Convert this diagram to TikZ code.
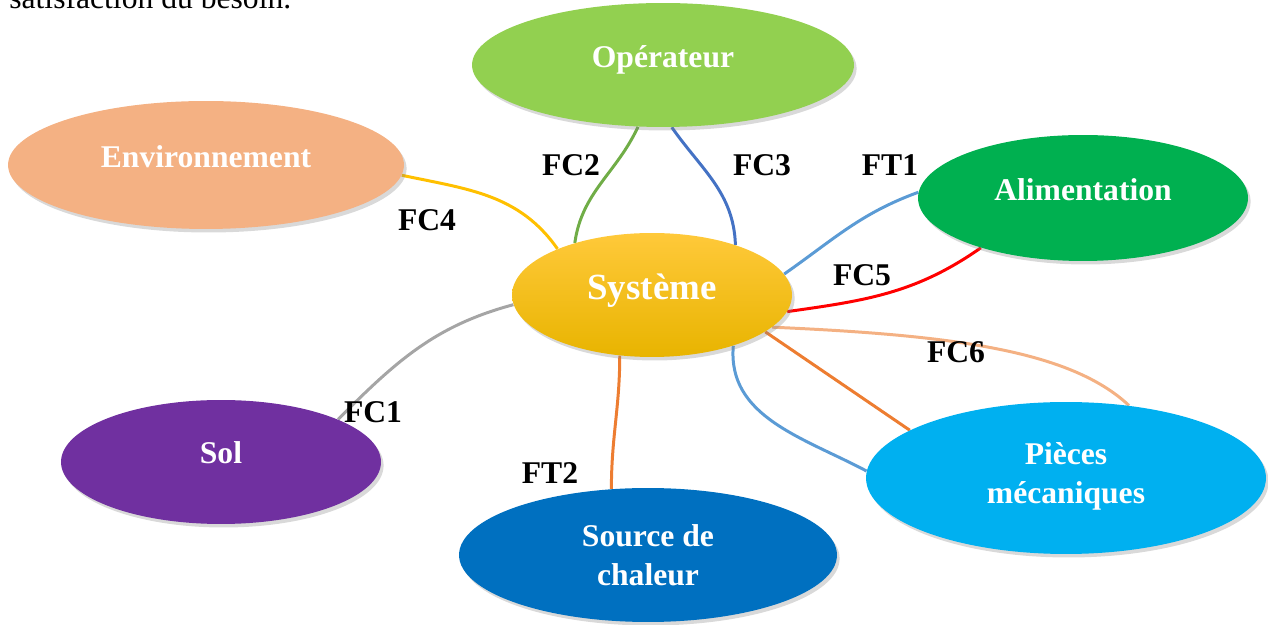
\documentclass[tikz,border=0pt]{standalone}
\usepackage{fontspec}
\setmainfont{Liberation Serif}
\usetikzlibrary{shapes.geometric,shadows,backgrounds}
\definecolor{opgreen}{HTML}{92D050}
\definecolor{envor}{HTML}{F4B183}
\definecolor{alimg}{HTML}{00B050}
\definecolor{solp}{HTML}{7030A0}
\definecolor{srcb}{HTML}{0070C0}
\definecolor{piecb}{HTML}{00B0F0}
\definecolor{systop}{HTML}{FFC93A}
\definecolor{sysbot}{HTML}{E8B400}
\definecolor{cyel}{HTML}{FFC000}
\definecolor{cgreen}{HTML}{70AD47}
\definecolor{cblue}{HTML}{4472C4}
\definecolor{clblue}{HTML}{5B9BD5}
\definecolor{cred}{HTML}{FF0000}
\definecolor{cpeach}{HTML}{F4B183}
\definecolor{corange}{HTML}{ED7D31}
\definecolor{cgray}{HTML}{A5A5A5}
\begin{document}
\begin{tikzpicture}[x=0.02cm,y=0.02cm,
  bub/.style={ellipse,inner sep=0pt,draw=none,text=white,align=center,
    font=\fontsize{18}{22.3}\selectfont\bfseries,
    drop shadow={shadow xshift=1.5pt,shadow yshift=-2pt,opacity=0.3}},
  lab/.style={font=\fontsize{18}{21}\selectfont\bfseries,inner sep=0pt},
  con/.style={line width=1.7pt}
]
\useasboundingbox (0,0) rectangle (1268,625);
\node[anchor=base west,inner sep=0pt,font=\fontsize{18}{21}\selectfont] (top) at (9,616) {satisfaction du besoin.};

\node[bub,fill=opgreen,minimum width=7.64cm,minimum height=2.48cm,text depth=10pt] (op) at (663,560) {Opérateur};
\node[bub,fill=envor,minimum width=7.92cm,minimum height=2.56cm,text depth=10pt] (env) at (206,460) {Environnement};
\node[bub,fill=alimg,minimum width=6.6cm,minimum height=2.52cm,text depth=10pt] (alim) at (1083,427) {Alimentation};
\node[bub,top color=systop,bottom color=sysbot,minimum width=5.6cm,minimum height=2.48cm,
  font=\fontsize{21}{25}\selectfont\bfseries,text depth=10pt] (sys) at (652,330) {Système};
\node[bub,fill=solp,minimum width=6.4cm,minimum height=2.48cm,text depth=11pt] (sol) at (221,163) {Sol};
\node[bub,fill=srcb,minimum width=7.56cm,minimum height=2.68cm] (src) at (648,70) {Source de\\chaleur};
\node[bub,fill=piecb,minimum width=8.0cm,minimum height=3.04cm,text depth=6pt] (pieces) at (1066,147) {Pièces\\mécaniques};

\begin{scope}[on background layer]
\draw[con,cyel] (env.-3) to[out=-12,in=125] (sys.154);
\draw[con,cgreen] (op.248) to[out=245,in=82] (sys.146);
\draw[con,cblue] (op.-82) to[out=-55,in=92] (sys.31);
\draw[con,clblue] (sys.9) to[out=35,in=200] (alim.178);
\draw[con,cred] (sys.-7) to[out=8,in=215] (alim.206);
\draw[con,cpeach] (sys.-15) .. controls (950,290) and (1070,275) .. (pieces.49);
\draw[con,corange] (sys.-18) -- (pieces.163);
\draw[con,clblue] (sys.-32) to[out=-95,in=152] (pieces.178);
\draw[con,cgray] (sys.184) to[out=195,in=45] (sol.20);
\draw[con,corange] (sys.242) to[out=-90,in=90] (src.119);
\end{scope}

\node[lab] (lfc2) at (571,460) {FC2};
\node[lab] (lfc3) at (762,460) {FC3};
\node[lab] (lft1) at (890,460) {FT1};
\node[lab] (lfc4) at (427,405) {FC4};
\node[lab] (lfc5) at (862,350) {FC5};
\node[lab] (lfc6) at (956,273) {FC6};
\node[lab] (lfc1) at (373,213) {FC1};
\node[lab] (lft2) at (550,152) {FT2};
\end{tikzpicture}
\end{document}
